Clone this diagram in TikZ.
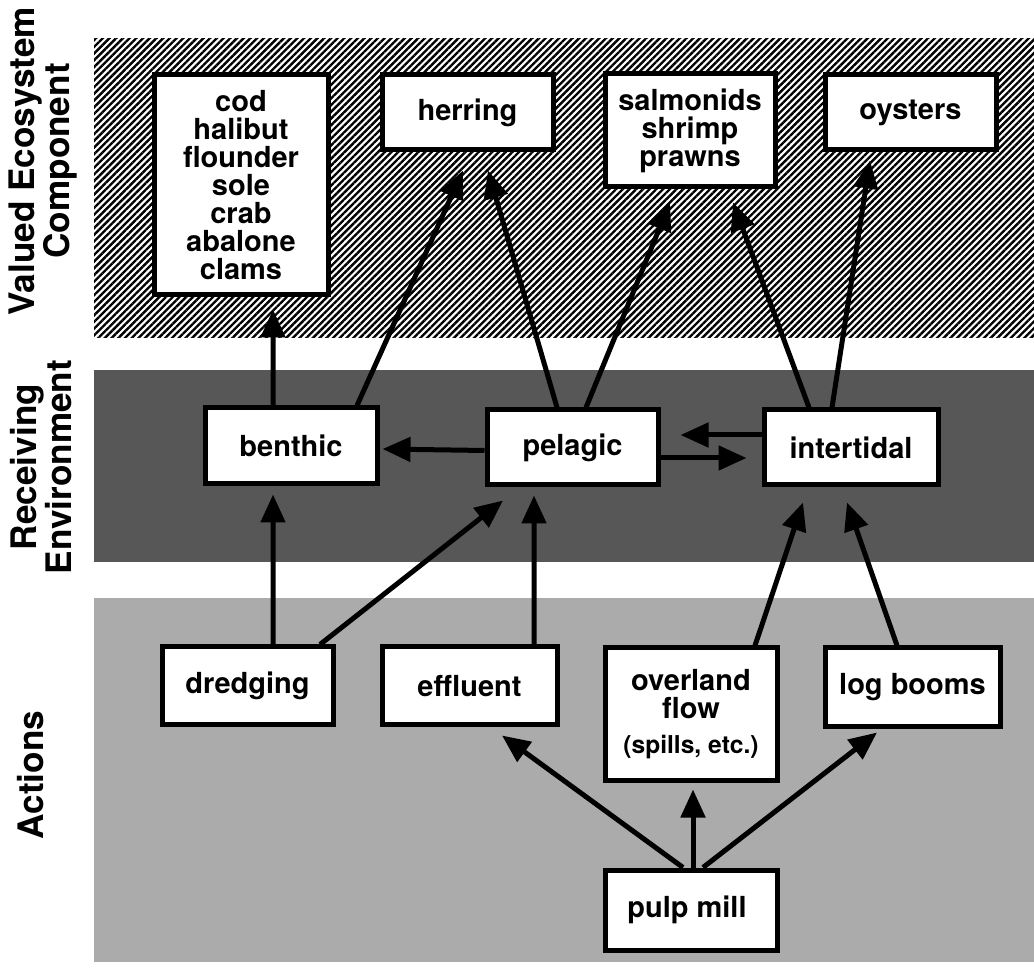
\documentclass[tikz,border=0pt]{standalone}
\usepackage{fontspec}
\setmainfont{TeX Gyre Heros}
\usetikzlibrary{arrows.meta}
\usetikzlibrary{patterns.meta}

\begin{document}
\begin{tikzpicture}
[lineDecorate/.style={-{Triangle[length=0.56cm,width=0.48cm]},line width=0.1cm},
 nodeDecorate/.style={shape=rectangle,draw,line width=0.1cm,fill=white,inner sep=0pt,align=center,font=\fontsize{16.5}{16}\selectfont\bfseries},
 bandLabel/.style={rotate=90,align=center,font=\fontsize{20}{20}\selectfont\bfseries}]

 \useasboundingbox (0,0) rectangle (20.68,19.46);

 % bands
 \fill[pattern={Lines[angle=45,distance=2.7pt,line width=1.35pt]}] (1.88,12.70) rectangle (20.68,18.68);
 \fill[black!66] (1.88,8.22) rectangle (20.68,12.06);
 \fill[black!33] (1.88,0.22) rectangle (20.68,7.50);

 \node (L0) at (0.86,16.24) [bandLabel] {Valued Ecosystem\\Component};
 \node (L1) at (0.82,10.12) [bandLabel] {Receiving\\Environment};
 \node (L2) at (0.62,3.96) [bandLabel] {Actions};

 \foreach \nodename/\x/\y/\w/\h/\txt in {
cod/4.82/15.76/3.48/4.40/{cod\\halibut\\flounder\\sole\\crab\\abalone\\clams},
herring/9.35/17.21/3.42/1.50/herring,
salmonids/13.80/16.85/3.40/2.26/{salmonids\\shrimp\\prawns},
oysters/18.21/17.21/3.42/1.50/oysters,
benthic/5.82/10.54/3.44/1.52/benthic,
pelagic/11.45/10.51/3.42/1.50/pelagic,
intertidal/17.02/10.51/3.48/1.50/intertidal,
dredging/4.95/5.74/3.42/1.56/dredging,
effluent/9.39/5.74/3.50/1.56/effluent,
overland/13.82/5.18/3.44/2.64/{overland\\flow\\[4pt]{\fontsize{14}{14}\selectfont(spills, etc.)}},
logbooms/18.25/5.71/3.50/1.58/log booms,
pulpmill/13.82/1.26/3.44/1.60/pulp mill
 }
 {
          \node (\nodename) at (\x,\y) [nodeDecorate,minimum width=\w cm,minimum height=\h cm] {\txt};
 }

\path
\foreach \startnode/\sx/\endnode/\ex/\ey in {
benthic/-0.36/cod/0.64/-0.24,
benthic/1.32/herring/-0.09/-0.36,
pelagic/-0.31/herring/0.41/-0.36,
pelagic/0.27/salmonids/-0.40/-0.26,
intertidal/-0.84/salmonids/0.86/-0.26,
intertidal/-0.38/oysters/-0.81/-0.16,
dredging/0.51/benthic/-0.36/-0.16,
dredging/1.45/pelagic/-1.39/-0.26,
effluent/1.29/pelagic/-0.77/-0.16,
overland/1.28/intertidal/-0.96/-0.30,
logbooms/-0.31/intertidal/-0.08/-0.30,
pulpmill/-0.16/effluent/0.65/-0.16,
pulpmill/0.04/overland/0.04/-0.14,
pulpmill/0.24/logbooms/-0.71/-0.06
        }
        {
          ([xshift=\sx cm]\startnode.north) edge[lineDecorate] ([xshift=\ex cm,yshift=\ey cm]\endnode.south)
        }
\foreach \startnode/\sa/\endnode/\ea/\ex/\sy in {
pelagic/west/benthic/east/0.06/-0.06,
intertidal/west/pelagic/east/0.40/0.25,
pelagic/east/intertidal/west/-0.30/-0.21
        }
        {
          ([yshift=\sy cm]\startnode.\sa) edge[lineDecorate] ([xshift=\ex cm,yshift=\sy cm]\endnode.\ea)
        };

\end{tikzpicture}
\end{document}
